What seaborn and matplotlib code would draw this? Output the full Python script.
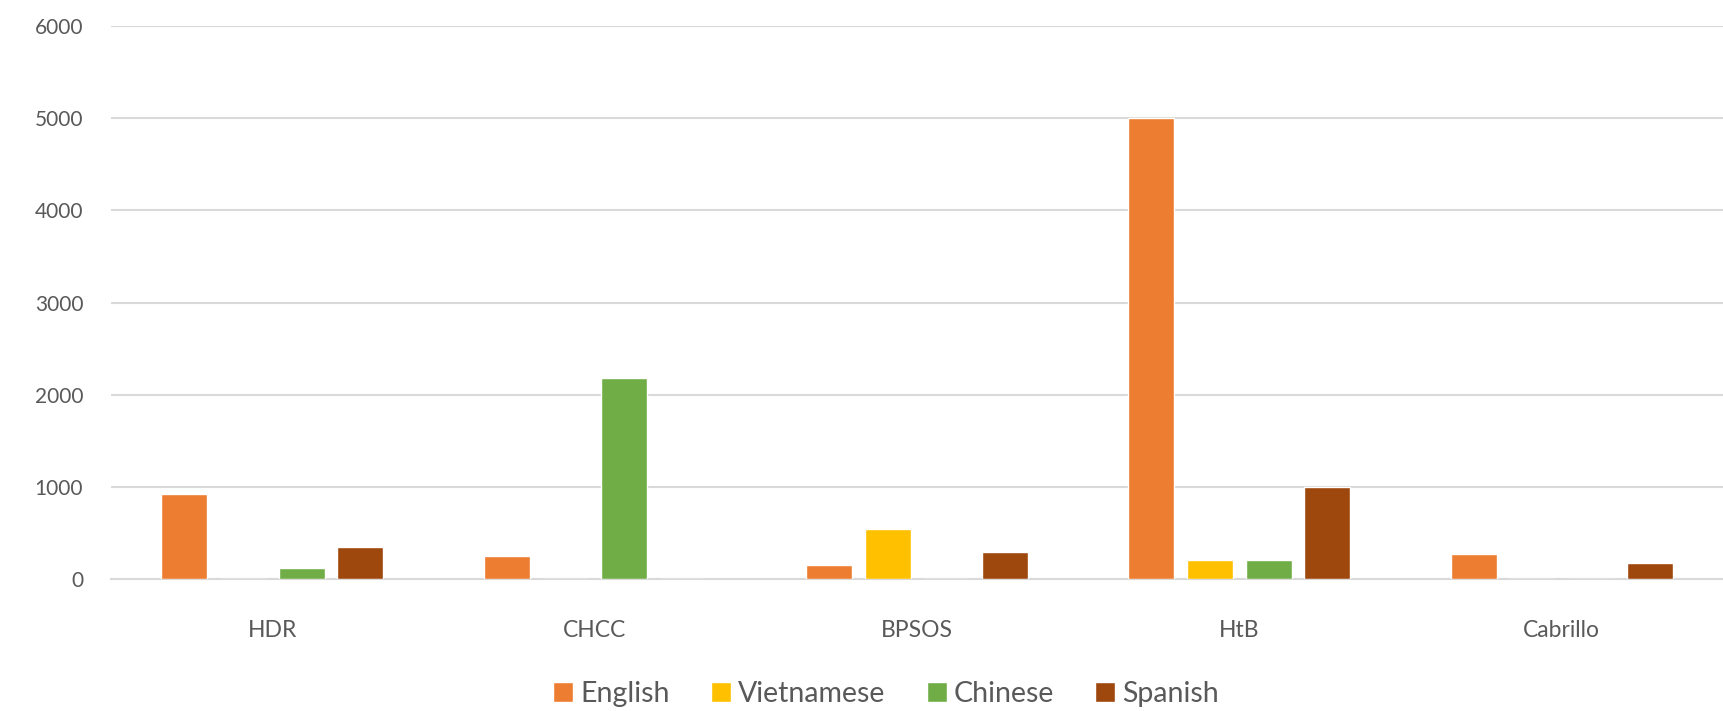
import numpy as np
import pandas as pd
import matplotlib.pyplot as plt
import seaborn as sns

# data
orgs = ["HDR", "CHCC", "BPSOS", "HtB", "Cabrillo"]
languages = ["English", "Vietnamese", "Chinese", "Spanish"]
english = [920, 250, 150, 5000, 270]
vietnamese = [0, 0, 540, 200, 0]
chinese = [120, 2180, 0, 200, 0]
spanish = [345, 0, 290, 1000, 175]
colors = ["#ED7D31", "#FFC000", "#70AD47", "#9E480E"]

rows = []
for lang, vals in zip(languages, [english, vietnamese, chinese, spanish]):
    for org, v in zip(orgs, vals):
        rows.append({"org": org, "language": lang, "count": v})
df = pd.DataFrame(rows)

sns.set_style("white")
plt.rcParams["font.family"] = ["Lato", "DejaVu Sans"]
text_col = "#595959"
grid_col = "#D9D9D9"

fig = plt.figure(figsize=(17.24, 7.11), dpi=100)
ax = fig.add_axes([0.0644, 0.186, 0.935, 0.777])

sns.barplot(data=df, x="org", y="count", hue="language", order=orgs,
            hue_order=languages, palette=colors, width=0.727, gap=0.215,
            saturation=1, errorbar=None, ax=ax, zorder=3)

ax.set_ylim(0, 6000)
ax.set_yticks(np.arange(0, 6001, 1000))
ax.set_xlim(-0.5, len(orgs) - 0.5)
ax.yaxis.grid(True, color=grid_col, linewidth=1.5, zorder=0)
ax.set_axisbelow(True)
ax.set_xlabel("")
ax.set_ylabel("")

for side in ["top", "right", "left"]:
    ax.spines[side].set_visible(False)
ax.spines["bottom"].set_color(grid_col)
ax.spines["bottom"].set_linewidth(1.5)

ax.tick_params(axis="y", length=0, labelsize=15, labelcolor=text_col, pad=20)
ax.tick_params(axis="x", which="major", length=0, labelsize=16.5,
               labelcolor=text_col, pad=30)
ax.set_xticks(np.arange(-0.5, len(orgs) + 0.5, 1), minor=True)
ax.tick_params(axis="x", which="minor", length=9, width=1.5, color=grid_col)

ax.get_legend().remove()
handles, labels = ax.get_legend_handles_labels()
leg = fig.legend(handles, labels, loc="center", bbox_to_anchor=(0.514, 0.024),
                 ncol=4, frameon=False, fontsize=20.5, handlelength=0.7,
                 handleheight=0.7, handletextpad=0.25, columnspacing=1.45,
                 borderpad=0)
for t in leg.get_texts():
    t.set_color(text_col)

fig.savefig("out.png", dpi=100)
